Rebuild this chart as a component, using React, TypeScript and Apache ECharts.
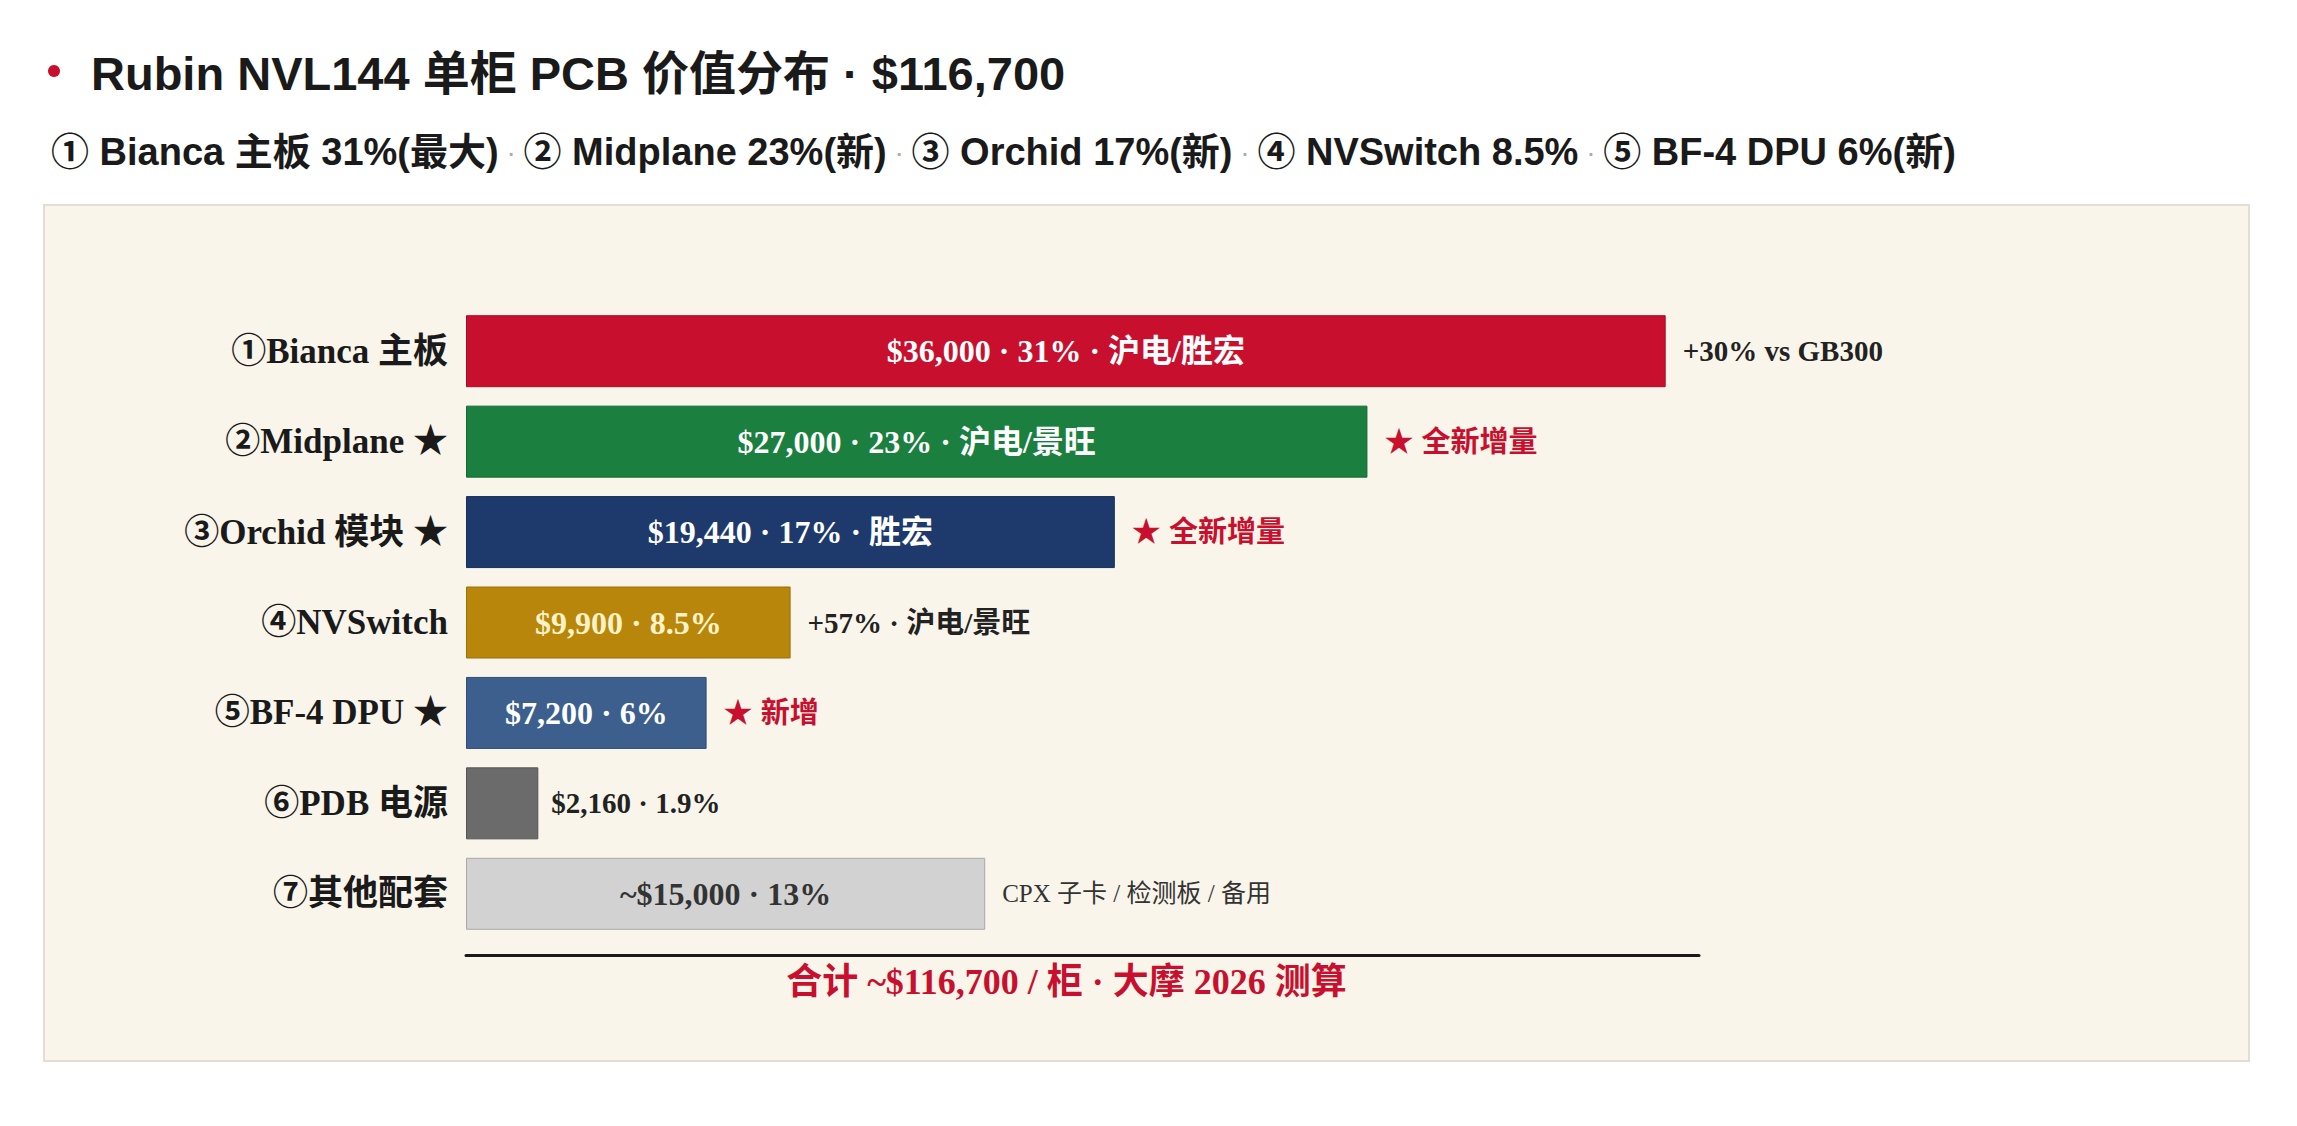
import React, { useEffect, useRef } from 'react'
import * as echarts from 'echarts'

// Rubin NVL144 per-rack PCB value split (bar lengths as drawn)
const categories = ['①Bianca 主板', '②Midplane ★', '③Orchid 模块 ★', '④NVSwitch', '⑤BF-4 DPU ★', '⑥PDB 电源', '⑦其他配套']
const values = [36000, 27050, 19470, 9740, 7220, 2170, 15580]
const valueLabels = [
  '$36,000 · 31% · 沪电/胜宏',
  '$27,000 · 23% · 沪电/景旺',
  '$19,440 · 17% · 胜宏',
  '$9,900 · 8.5%',
  '$7,200 · 6%',
  '$2,160 · 1.9%',
  '~$15,000 · 13%',
]
const notes = ['+30% vs GB300', '★ 全新增量', '★ 全新增量', '+57% · 沪电/景旺', '★ 新增', '', 'CPX 子卡 / 检测板 / 备用']
const noteKinds = ['dark', 'red', 'red', 'dark', 'red', 'none', 'light']
const barColors = ['#c8102e', '#1a7f3f', '#1e3a6d', '#b8860b', '#3c5f8e', '#6b6b6b', '#d2d2d2']
const barBorders = ['#a50d26', '#156833', '#172e57', '#9a7009', '#314e75', '#555555', '#a8a8a8']
const labelColors = ['#ffffff', '#ffffff', '#ffffff', '#fff3c8', '#ffffff', '#222222', '#333333']

const title = 'Rubin NVL144 单柜 PCB 价值分布 · $116,700'
const subItems = ['① Bianca 主板 31%(最大)', '② Midplane 23%(新)', '③ Orchid 17%(新)', '④ NVSwitch 8.5%', '⑤ BF-4 DPU 6%(新)']
const totalNote = '合计 ~$116,700 / 柜 · 大摩 2026 测算'

const SANS = "'Liberation Sans', Arial, 'Noto Sans CJK SC', sans-serif"
const SERIF = "'Liberation Serif', 'Times New Roman', 'Noto Sans CJK SC', serif"
const RED = '#c8102e'

const App: React.FC = () => {
  const chartRef = useRef<HTMLDivElement>(null)

  useEffect(() => {
    if (!chartRef.current) return
    const chart = echarts.init(chartRef.current, undefined, { renderer: 'svg' })

    const barData = values.map((v, i) => ({
      value: v,
      itemStyle: { color: barColors[i], borderColor: barBorders[i], borderWidth: 1 },
      label:
        i === 5
          ? { position: 'right', distance: 13, color: labelColors[i], fontSize: 29 }
          : { position: 'inside', color: labelColors[i] },
    }))

    const noteData = values.map((v, i) => {
      const kind = noteKinds[i]
      const style =
        kind === 'red'
          ? { color: RED, fontSize: 29, fontFamily: SANS, fontWeight: 'bold' }
          : kind === 'light'
          ? { color: '#333', fontSize: 25, fontWeight: 'normal', padding: [4, 0, 0, 0] }
          : { color: '#222', fontSize: 29, fontWeight: 'bold', padding: [4, 0, 0, 0] }
      return { value: v, label: { ...style } }
    })

    const option: echarts.EChartsOption = {
      animation: false,
      backgroundColor: '#ffffff',
      title: [
        {
          text: title,
          left: 86,
          top: 45,
          textStyle: { fontFamily: SANS, fontSize: 47, fontWeight: 'bold', color: '#1a1a1a' },
        },
        {
          text: subItems.join('{s| · }'),
          left: 46,
          top: 128,
          textStyle: {
            fontFamily: SANS,
            fontSize: 38,
            fontWeight: 'bold',
            color: '#1a1a1a',
            rich: { s: { fontFamily: SANS, fontSize: 28, color: '#aaaaaa', fontWeight: 'normal' } },
          },
        },
      ],
      graphic: [
        {
          type: 'circle',
          shape: { cx: 54, cy: 71, r: 6 },
          style: { fill: RED },
        },
        {
          type: 'rect',
          shape: { x: 44, y: 205, width: 2205, height: 856 },
          style: { fill: '#f9f5eb', stroke: '#e2ded3', lineWidth: 2 },
          z: -10,
        },
      ],
      grid: { left: 466, right: 598, top: 306, bottom: 187, containLabel: false },
      xAxis: {
        type: 'value',
        min: 0,
        max: 37000,
        offset: 16,
        axisLine: { show: true, lineStyle: { color: '#1a1a1a', width: 3 } },
        axisTick: { show: false },
        axisLabel: { show: false },
        splitLine: { show: false },
        name: totalNote,
        nameLocation: 'middle',
        nameGap: 9,
        nameTextStyle: {
          fontFamily: SERIF,
          fontSize: 36,
          fontWeight: 'bold',
          color: RED,
          padding: [0, 32, 0, 0],
        },
      },
      yAxis: {
        type: 'category',
        inverse: true,
        data: categories,
        axisLine: { show: false },
        axisTick: { show: false },
        axisLabel: { margin: 18, fontFamily: SERIF, fontSize: 35, fontWeight: 'bold', color: '#1a1a1a' },
      },
      series: [
        {
          type: 'bar',
          barWidth: 72,
          data: barData as any,
          label: {
            show: true,
            fontFamily: SERIF,
            fontSize: 32,
            fontWeight: 'bold',
            formatter: (p: any) => valueLabels[p.dataIndex],
          },
          z: 3,
        },
        {
          type: 'bar',
          barWidth: 72,
          barGap: '-100%',
          silent: true,
          data: noteData as any,
          itemStyle: { color: 'rgba(0,0,0,0)' },
          label: {
            show: true,
            position: 'right',
            distance: 17,
            fontFamily: SERIF,
            formatter: (p: any) => notes[p.dataIndex],
          },
          z: 2,
        },
      ],
    }

    chart.setOption(option)
    const onResize = () => chart.resize()
    window.addEventListener('resize', onResize)
    return () => {
      window.removeEventListener('resize', onResize)
      chart.dispose()
    }
  }, [])

  return (
    <div
      ref={chartRef}
      style={{ position: 'fixed', left: 0, top: 0, width: '100vw', height: '100vh', background: '#fff' }}
    />
  )
}

export default App
